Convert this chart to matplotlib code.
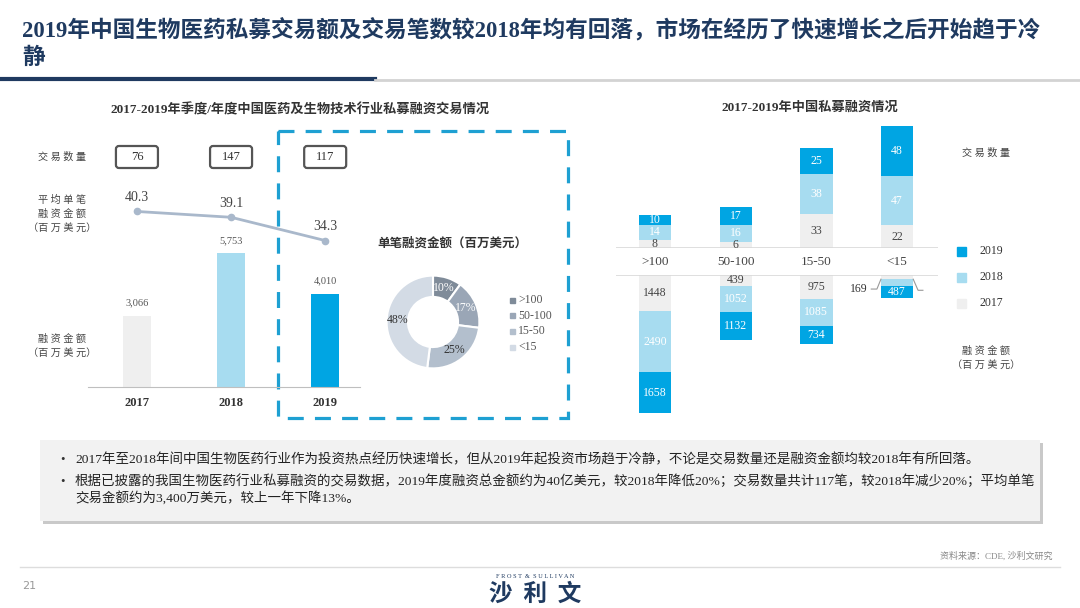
import matplotlib
matplotlib.use('Agg')
import matplotlib.pyplot as plt
from matplotlib.patches import Rectangle, FancyBboxPatch
from matplotlib.lines import Line2D

plt.rcParams['font.family'] = ['Liberation Serif', 'Noto Sans CJK SC', 'DejaVu Sans']

# ========== Datos ==========
years = ['2017', '2018', '2019']
deal_counts = [76, 147, 117]
avg_deal = [40.3, 39.1, 34.3]
total_amount = [3066, 5753, 4010]

size_labels = ['>100', '50-100', '15-50', '<15']
share_2019 = [10, 17, 25, 48]

counts_2017 = [8, 6, 33, 22]
counts_2018 = [14, 16, 38, 47]
counts_2019 = [10, 17, 25, 48]
amount_2017 = [1448, 439, 975, 169]
amount_2018 = [2490, 1052, 1085, 280]
amount_2019 = [1658, 1132, 734, 487]

title = '2019年中国生物医药私募交易额及交易笔数较2018年均有回落，市场在经历了快速增长之后开始趋于冷\n静'
left_title = '2017-2019年季度/年度中国医药及生物技术行业私募融资交易情况'
right_title = '2017-2019年中国私募融资情况'
donut_title = '单笔融资金额（百万美元）'
bullets = [
    '2017年至2018年间中国生物医药行业作为投资热点经历快速增长，但从2019年起投资市场趋于冷静，不论是交易数量还是融资金额均较2018年有所回落。',
    '根据已披露的我国生物医药行业私募融资的交易数据，2019年度融资总金额约为40亿美元，较2018年降低20%；交易数量共计117笔，较2018年减少20%；平均单笔\n交易金额约为3,400万美元，较上一年下降13%。',
]

NAVY = '#1F3A60'
C2017 = '#EFEFEF'
C2018 = '#A7DCF0'
C2019 = '#00A5E3'
DONUT_COLORS = ['#7F8B99', '#9AA6B6', '#B3BFCD', '#D3DBE5']

W, H = 1080, 608
fig = plt.figure(figsize=(10.8, 6.08), dpi=100)


def px_axes(x0, y0, x1, y1):
    return fig.add_axes([x0 / W, 1 - y1 / H, (x1 - x0) / W, (y1 - y0) / H])


bg = px_axes(0, 0, W, H)
bg.set_xlim(0, W)
bg.set_ylim(H, 0)
bg.axis('off')

# ========== Encabezado ==========
bg.text(22, 44, title, fontsize=16.3, fontweight='bold', color=NAVY, va='center', ha='left', linespacing=1.3)
bg.add_line(Line2D([0, 375], [79, 79], color=NAVY, lw=3))
bg.add_line(Line2D([375, 1080], [80, 80], color='#D3D3D3', lw=2))

bg.text(300, 110, left_title, fontsize=9.5, fontweight='bold', color='#333333', ha='center', va='center')
bg.text(810, 108, right_title, fontsize=9.5, fontweight='bold', color='#333333', ha='center', va='center')

# ========== Grafica izquierda: barras + linea ==========
ax = px_axes(88, 130, 360, 387)
x = list(range(len(years)))
ax.bar(x, total_amount, width=0.3, color=[C2017, C2018, C2019])
ax.set_xlim(-0.52, 2.37)
ax.set_ylim(0, 11030)
for s in ['top', 'right', 'left']:
    ax.spines[s].set_visible(False)
ax.spines['bottom'].set_color('#BFBFBF')
ax.set_yticks([])
ax.set_xticks(x)
ax.set_xticklabels(years, fontsize=9, fontweight='bold', color='#333333')
ax.tick_params(axis='x', length=0, pad=7)
ax.patch.set_alpha(0)
for i, v in enumerate(total_amount):
    ax.text(i, v + 350, f'{v:,}', ha='center', va='bottom', fontsize=7.5, color='#555555')

ax2 = ax.twinx()
ax2.set_ylim(4.1, 57.1)
ax2.axis('off')
ax2.plot(x, avg_deal, color='#A9B8CB', lw=2, marker='o', ms=4.5)
for i, v in enumerate(avg_deal):
    ax2.text(i, v + 1.6, f'{v}', ha='center', va='bottom', fontsize=10, color='#444444')

# cajas de numero de transacciones
for i, n in enumerate(deal_counts):
    cx = bg.transData.inverted().transform(ax.transData.transform((i, 0)))[0]
    bg.add_patch(FancyBboxPatch((cx - 21, 146), 42, 22, boxstyle='round,pad=0,rounding_size=3',
                                fc='white', ec='#555555', lw=1.6))
    bg.text(cx, 157, str(n), ha='center', va='center', fontsize=9, color='#333333')

lab_kw = dict(ha='center', va='center', fontsize=7.3, color='#444444', linespacing=1.5)
bg.text(62, 157, '交 易 数 量', **lab_kw)
bg.text(62, 214, '平 均 单 笔\n融 资 金 额\n（百 万 美 元）', **lab_kw)
bg.text(62, 346, '融 资 金 额\n（百 万 美 元）', **lab_kw)

# recuadro discontinuo
bg.add_patch(Rectangle((278, 131), 290, 287, fill=False, ec='#1EA0D2', lw=2.3, ls=(0, (5, 3.5))))

# ========== Dona ==========
bg.text(452, 243, donut_title, fontsize=9, fontweight='bold', color='#333333', ha='center', va='center')
axd = px_axes(375, 264, 491, 380)
wedges, _, autotexts = axd.pie(share_2019, colors=DONUT_COLORS, startangle=90, counterclock=False,
                               autopct='%d%%', pctdistance=0.76,
                               wedgeprops=dict(width=0.46, edgecolor='white', linewidth=1.5),
                               textprops=dict(fontsize=8.5))
for t, c in zip(autotexts, ['white', 'white', '#333333', '#333333']):
    t.set_color(c)
axd.set_aspect('equal')
for i, (lab, c) in enumerate(zip(size_labels, DONUT_COLORS)):
    y = 300 + i * 15.7
    bg.add_patch(Rectangle((510, y - 2.5), 5, 5, color=c))
    bg.text(518, y, lab, fontsize=8.5, color='#555555', va='center', ha='left')

# ========== Grafica derecha ==========
xr = list(range(len(size_labels)))
axt = px_axes(616, 115, 938, 248)
axt.set_xlim(-0.483, 3.507)
axt.set_ylim(0, 128)
axt.bar(xr, counts_2017, width=0.4, color=C2017)
axt.bar(xr, counts_2018, width=0.4, bottom=counts_2017, color=C2018)
b2 = [a + b for a, b in zip(counts_2017, counts_2018)]
axt.bar(xr, counts_2019, width=0.4, bottom=b2, color=C2019)
axt.axis('off')
axt.axhline(0, color='#D9D9D9', lw=1.2)
for i in xr:
    axt.text(i, counts_2017[i] / 2, str(counts_2017[i]), ha='center', va='center', fontsize=8.5, color='#444444')
    axt.text(i, counts_2017[i] + counts_2018[i] / 2, str(counts_2018[i]), ha='center', va='center', fontsize=8.5, color='white')
    axt.text(i, b2[i] + counts_2019[i] / 2, str(counts_2019[i]), ha='center', va='center', fontsize=8.5, color='white')
    axt.text(i, -13.5, size_labels[i], ha='center', va='center', fontsize=9.5, color='#444444', clip_on=False)

axb = px_axes(616, 275, 938, 420)
axb.set_xlim(-0.483, 3.507)
axb.set_ylim(5870, 0)
axb.bar(xr, amount_2017, width=0.4, color=C2017)
axb.bar(xr, amount_2018, width=0.4, bottom=amount_2017, color=C2018)
a2 = [a + b for a, b in zip(amount_2017, amount_2018)]
axb.bar(xr, amount_2019, width=0.4, bottom=a2, color=C2019)
axb.axis('off')
axb.axhline(0, color='#D9D9D9', lw=1.2)
for i in xr:
    if i < 3:
        axb.text(i, amount_2017[i] / 2, str(amount_2017[i]), ha='center', va='center', fontsize=8.5, color='#444444')
        axb.text(i, amount_2017[i] + amount_2018[i] / 2, str(amount_2018[i]), ha='center', va='center', fontsize=8.5, color='white')
    axb.text(i, a2[i] + amount_2019[i] / 2, str(amount_2019[i]), ha='center', va='center', fontsize=8.5, color='white')
# etiquetas con guia para <15
axb.plot([2.68, 2.75, 2.8], [amount_2017[3] + 400, amount_2017[3] + 400, amount_2017[3]], color='#999999', lw=0.8, clip_on=False)
axb.text(2.64, amount_2017[3] + 400, str(amount_2017[3]), ha='right', va='center', fontsize=8.5, color='#333333')
axb.plot([3.2, 3.26, 3.32], [amount_2017[3], amount_2017[3] + 450, amount_2017[3] + 450], color='#999999', lw=0.8, clip_on=False)

# leyenda derecha
for j, (yr, c) in enumerate(zip(['2019', '2018', '2017'], [C2019, C2018, C2017])):
    y = 251 + j * 26
    bg.add_patch(Rectangle((957, y - 4.5), 9, 9, color=c))
    bg.text(979, y, yr, fontsize=8.5, color='#333333', va='center', ha='left')
bg.text(986, 153, '交 易 数 量', **lab_kw)
bg.text(986, 358, '融 资 金 额\n（百 万 美 元）', **lab_kw)

# ========== Caja de texto inferior ==========
bg.add_patch(Rectangle((43, 443), 1000, 81, color='#C9C9C9', lw=0))
bg.add_patch(Rectangle((40, 440), 1000, 81, color='#F2F2F2', lw=0))
bg.text(60, 460, '•', fontsize=9, color='#333333', va='center')
bg.text(75, 460, bullets[0], fontsize=9.7, color='#222222', va='center')
bg.text(60, 482, '•', fontsize=9, color='#333333', va='center')
bg.text(75, 490, bullets[1], fontsize=9.7, color='#222222', va='center', linespacing=1.3)

# ========== Pie de pagina ==========
bg.text(1052, 556, '资料来源：CDE, 沙利文研究', fontsize=6.5, color='#888888', ha='right', va='center')
bg.add_line(Line2D([20, 1060], [567, 567], color='#DDDDDD', lw=1))
bg.text(22, 586, '21', fontsize=8, color='#999999', ha='left', va='center', family='DejaVu Sans')
bg.text(535, 577, 'F R O S T  &  S U L L I V A N', fontsize=4.5, color=NAVY, ha='center', va='center')
bg.text(535, 594, '沙  利  文', fontsize=17, fontweight='bold', color=NAVY, ha='center', va='center',
        family=['Noto Sans CJK SC', 'DejaVu Sans'])

fig.savefig('out.png', dpi=100)
